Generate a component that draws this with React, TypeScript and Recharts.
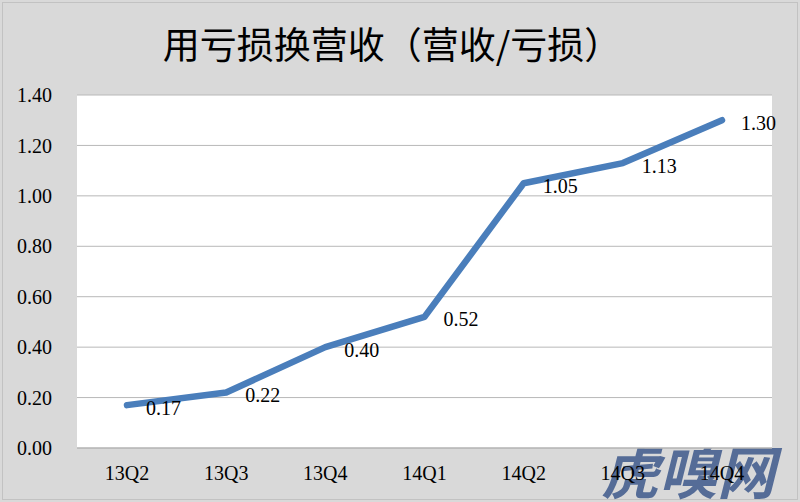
import React from 'react';
import { LineChart, Line, XAxis, YAxis, CartesianGrid, LabelList } from 'recharts';

const categories = ['13Q2', '13Q3', '13Q4', '14Q1', '14Q2', '14Q3', '14Q4'];
const ratios = [0.17, 0.22, 0.4, 0.52, 1.05, 1.13, 1.3];
const yTicks = [0, 0.2, 0.4, 0.6, 0.8, 1.0, 1.2, 1.4];
const title = '用亏损换营收（营收/亏损）';
const watermark = '虎嗅网';

const data = categories.map((q, i) => ({ q, v: ratios[i] }));

const SERIF = '"Liberation Serif", "Times New Roman", serif';
const CJK = '"Noto Sans CJK SC", "Noto Sans", sans-serif';

const renderLabel = (props: any) => {
  const { x, y, value } = props;
  return (
    <text x={Number(x) + 19} y={Number(y) + 9.5} fontFamily={SERIF} fontSize={20} fill="#000">
      {Number(value).toFixed(2)}
    </text>
  );
};

export default function App() {
  return (
    <div style={{ position: 'absolute', left: 0, top: 0, width: 800, height: 502, background: '#d9d9d9', overflow: 'hidden' }}>
      <svg width={800} height={502} style={{ position: 'absolute', left: 0, top: 0 }}>
        <rect x={2.5} y={2.5} width={795} height={497} fill="none" stroke="#c2c2c2" strokeWidth={1} />
        <text
          x={601}
          y={494}
          fontFamily={CJK}
          fontWeight={700}
          fontStyle="italic"
          fontSize={58}
          fill="#3f5a8c"
          opacity={0.85}
        >
          {watermark}
        </text>
      </svg>
      <div style={{ position: 'absolute', left: 0, top: 0 }}>
        <LineChart width={800} height={502} data={data} margin={{ top: 95, right: 28, bottom: 0, left: 0 }}>
          <CartesianGrid vertical={false} horizontal={true} stroke="#b8b8b8" fill="#ffffff" />
          <XAxis
            dataKey="q"
            height={54}
            padding={{ left: 50, right: 50 }}
            axisLine={{ stroke: '#b0b0b0' }}
            tickLine={false}
            tickSize={0}
            tickMargin={18}
            tick={{ fontFamily: SERIF, fontSize: 20, fill: '#000' }}
            interval={0}
          />
          <YAxis
            width={77}
            domain={[0, 1.4]}
            ticks={yTicks}
            axisLine={false}
            tickLine={false}
            tickSize={0}
            tickMargin={25}
            tickFormatter={(v: number) => v.toFixed(2)}
            tick={{ fontFamily: SERIF, fontSize: 20, fill: '#000' }}
          />
          <Line
            type="linear"
            dataKey="v"
            stroke="#4a7ebb"
            strokeWidth={6.5}
            strokeLinecap="round"
            strokeLinejoin="round"
            dot={false}
            activeDot={false}
            isAnimationActive={false}
          >
            <LabelList dataKey="v" content={renderLabel} />
          </Line>
        </LineChart>
      </div>
      <svg width={800} height={502} style={{ position: 'absolute', left: 0, top: 0, pointerEvents: 'none' }}>
        <text x={392} y={59} textAnchor="middle" fontFamily={CJK} fontSize={37} fill="#000">
          {title}
        </text>
      </svg>
    </div>
  );
}
